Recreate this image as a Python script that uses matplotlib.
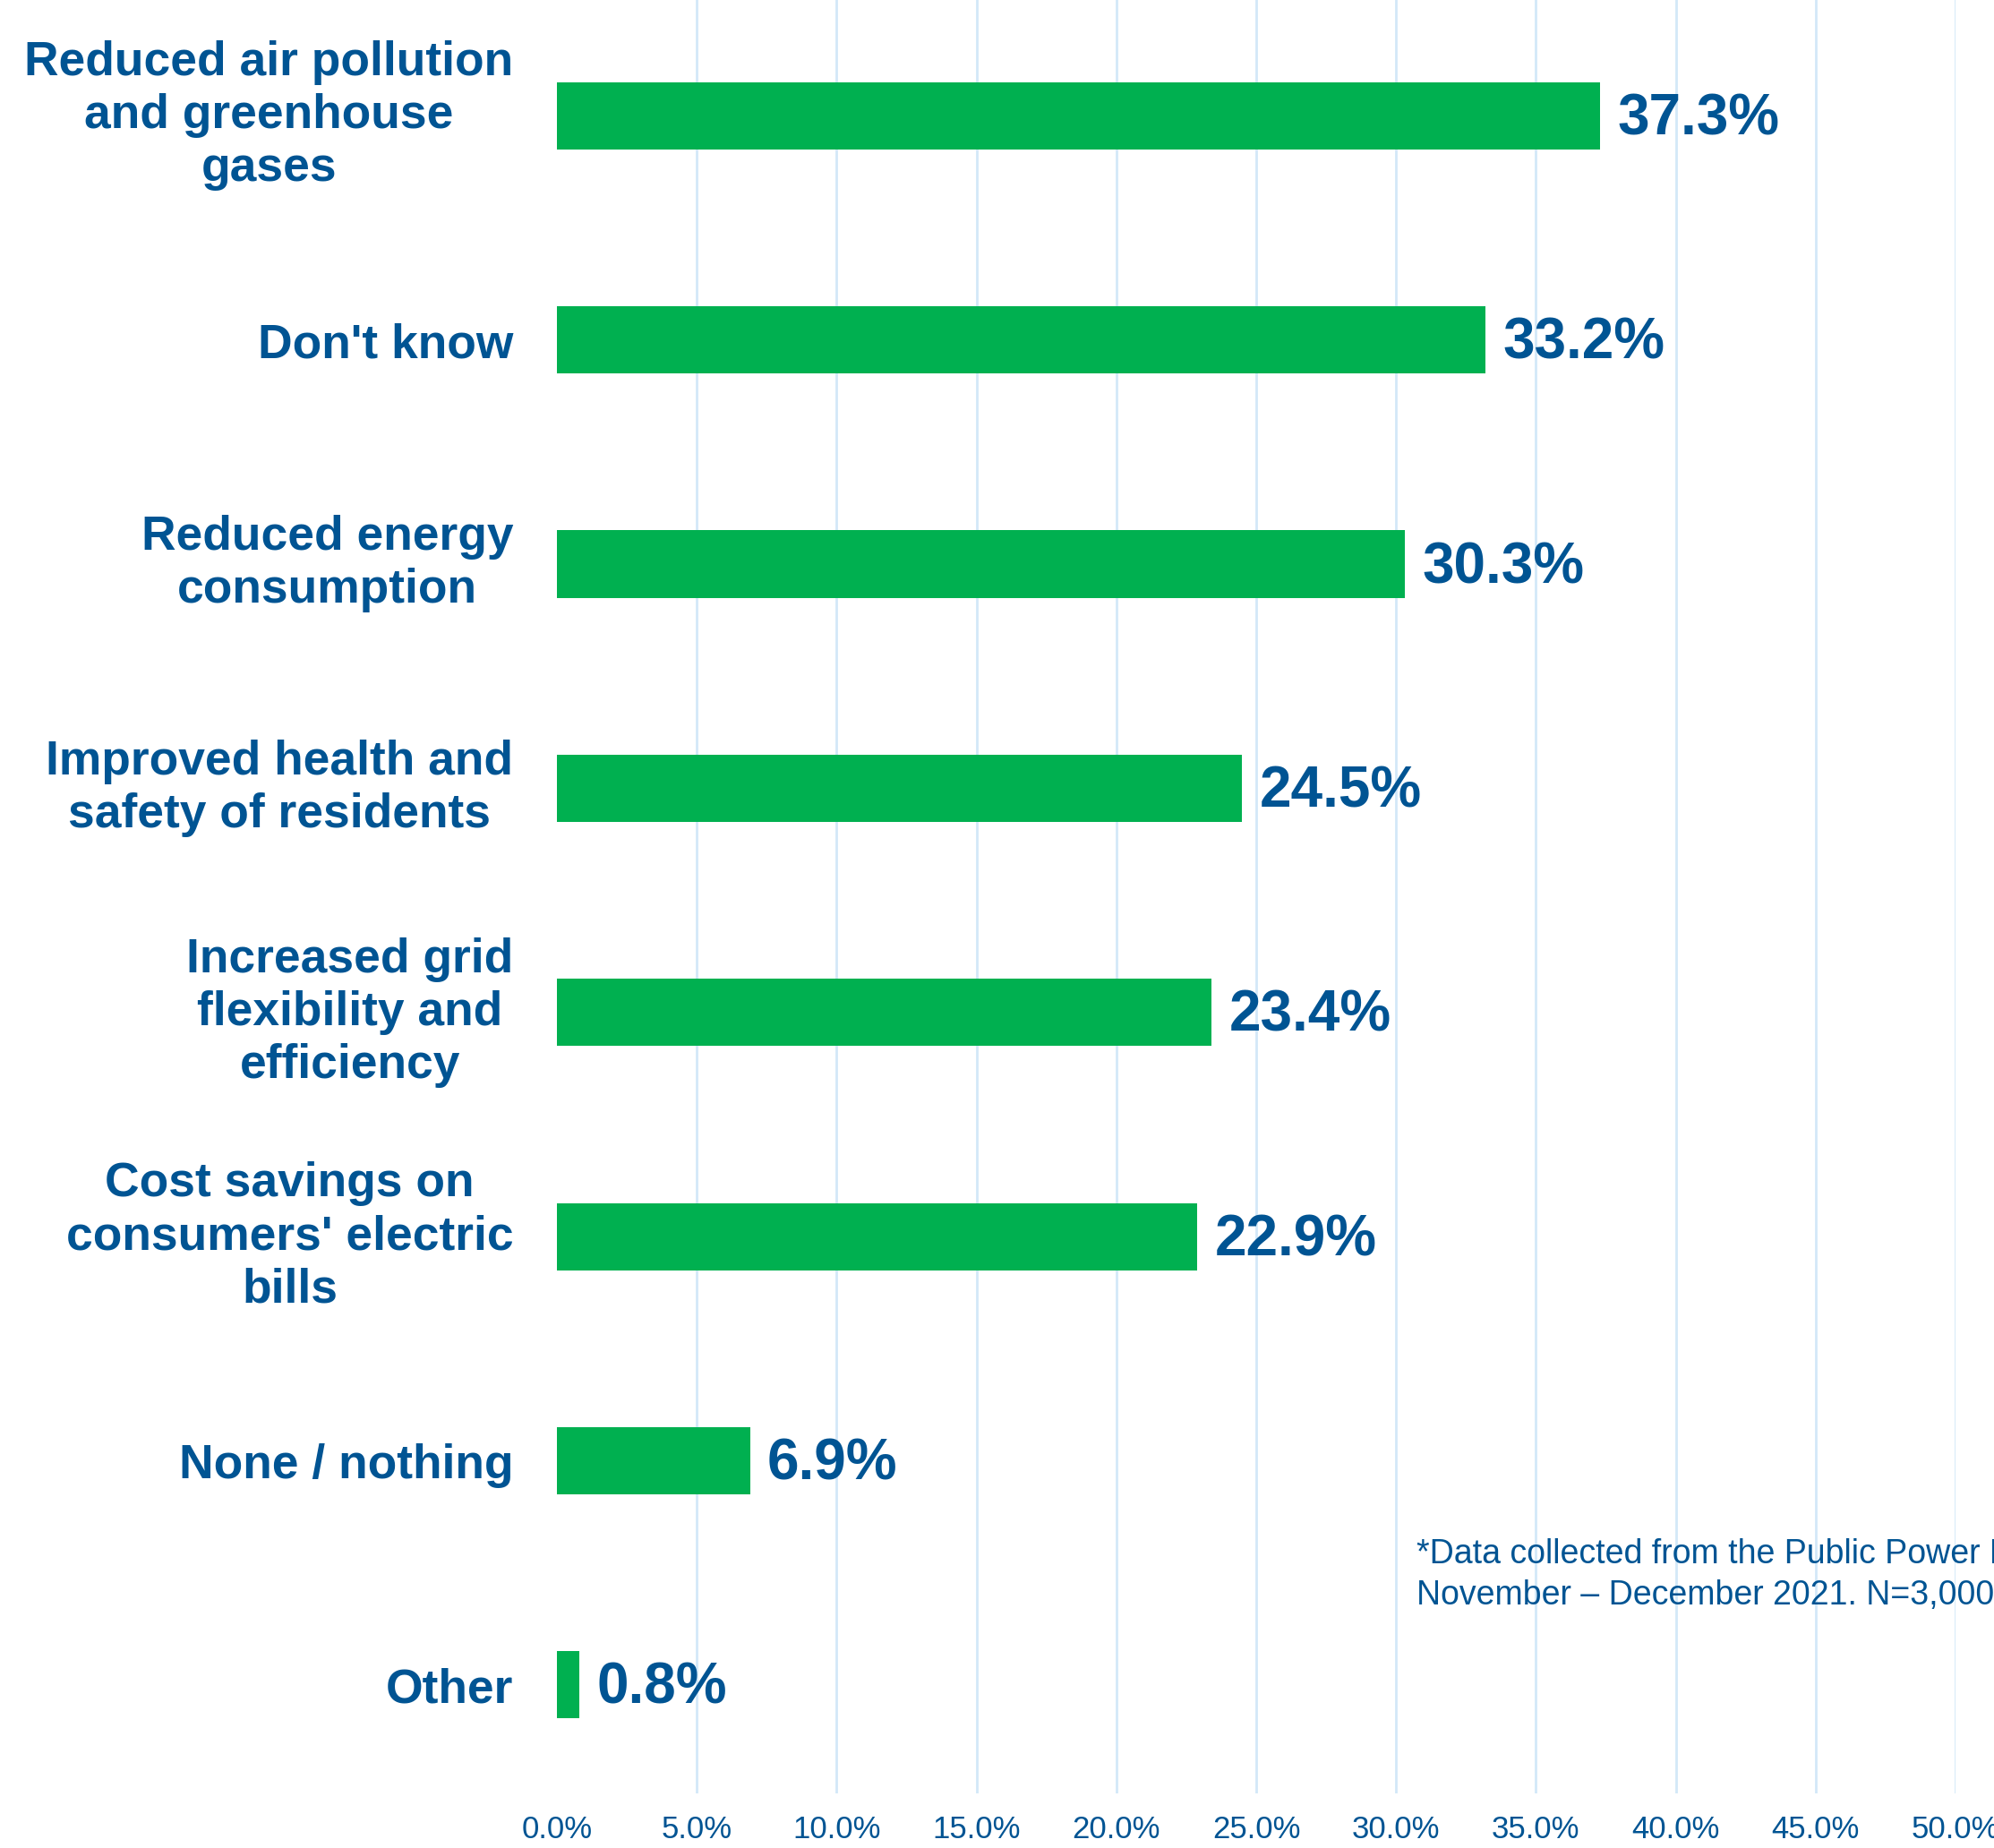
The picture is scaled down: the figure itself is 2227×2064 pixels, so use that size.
import matplotlib.pyplot as plt
import numpy as np

# survey answers, top to bottom
labels = [
    "Reduced air pollution\nand greenhouse\ngases",
    "Don't know",
    "Reduced energy\nconsumption",
    "Improved health and\nsafety of residents",
    "Increased grid\nflexibility and\nefficiency",
    "Cost savings on\nconsumers' electric\nbills",
    "None / nothing",
    "Other",
]
values = [37.3, 33.2, 30.3, 24.5, 23.4, 22.9, 6.9, 0.8]
xticks = [0, 5, 10, 15, 20, 25, 30, 35, 40, 45, 50]
note = "*Data collected from the Public Power District survey,\nNovember \u2013 December 2021. N=3,000"

green = "#00B050"
blue = "#005493"
gridc = "#D3E8F8"

plt.rcParams['font.family'] = ['Liberation Sans', 'DejaVu Sans']

fig = plt.figure(figsize=(22.27, 20.64), dpi=100)
ax = fig.add_axes([0.2793, 0.02955, 0.7014, 0.97045])

y = np.arange(len(values))
ax.barh(y, values, height=0.30, color=green, zorder=3)

for yi, v in zip(y, values):
    ax.annotate(f"{v:.1f}%", (v, yi), xytext=(14, -3), textcoords='offset points',
                va='center', ha='left', fontsize=46, fontweight='bold', color=blue)

ax.set_xlim(0, 50)
ax.set_ylim(len(values) - 0.516, -0.516)
ax.set_xticks(xticks)
ax.set_xticklabels([f"{t:.1f}%" for t in xticks], fontsize=25, color=blue)
ax.set_yticks(y)
ax.set_yticklabels(labels, fontsize=38.4, fontweight='bold', color=blue,
                   multialignment='center', linespacing=1.23)
# multi-line labels sit a little low with the baseline centring
for t in ax.get_yticklabels():
    if "\n" in t.get_text():
        t.set_va('center')
ax.tick_params(axis='x', length=0, pad=17)
ax.tick_params(axis='y', length=0, pad=35)

ax.grid(axis='x', color=gridc, linewidth=2, zorder=0)
ax.grid(axis='y', visible=False)
ax.get_xgridlines()[0].set_visible(False)
for s in ax.spines.values():
    s.set_visible(False)

fig.text(0.7104, 0.1478, note, fontsize=27, color=blue, va='center', ha='left',
         linespacing=1.35)

fig.savefig("out.png", dpi=100)
